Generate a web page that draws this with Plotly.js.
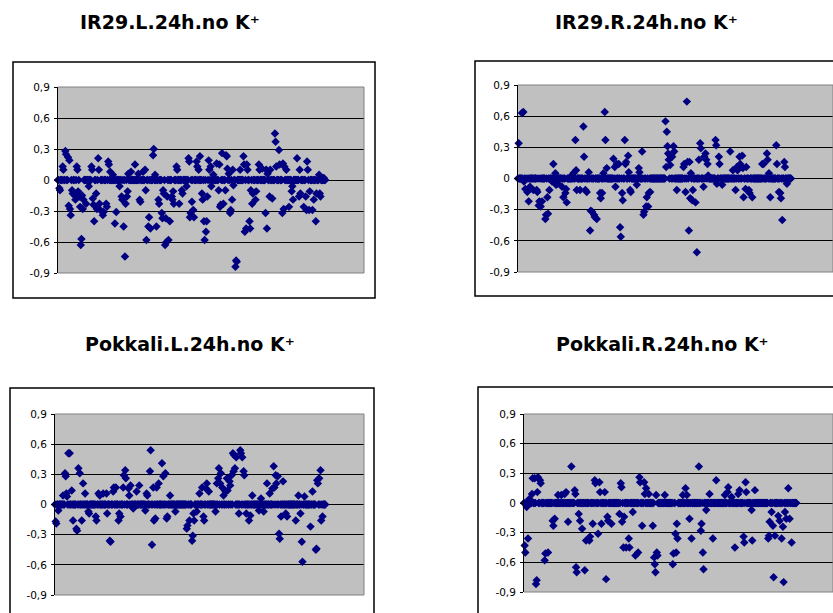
<!DOCTYPE html>
<html><head><meta charset="utf-8">
<script src="https://cdn.plot.ly/plotly-3.0.1.min.js"></script>
<style>html,body{margin:0;padding:0;overflow:hidden;background:#fff}#chart{width:833px;height:613px}</style>
</head><body><div id="chart"></div>
<script>
const panelTitles = ["IR29.L.24h.no K⁺", "IR29.R.24h.no K⁺", "Pokkali.L.24h.no K⁺", "Pokkali.R.24h.no K⁺"];
const yTickVals = [-0.9, -0.6, -0.3, 0, 0.3, 0.6, 0.9];
const yTickText = ["-0,9", "-0,6", "-0,3", "0", "0,3", "0,6", "0,9"];

const ir29L = [
0,0,-0.08,-0.1,0,0,0,0.13,0.1,0,
0,0.28,0.25,0,0,0.22,-0.25,0.19,-0.28,-0.34,
0,-0.1,-0.13,0,0,-0.15,-0.19,0,0.13,0.1,
-0.11,0,-0.16,-0.26,-0.63,-0.57,-0.15,-0.28,-0.19,0,
0,0,-0.23,0,0,0,-0.06,0,0,0,
0.13,0.1,-0.18,-0.24,-0.4,0,0,-0.13,-0.28,0,
0.21,0.1,-0.23,-0.29,0,0,0,-0.34,-0.31,0,
0,0,-0.23,-0.26,0,0.18,0.15,0,0.08,0,
0,0,0.05,0,0,-0.42,0,-0.31,0,0,
0,0,-0.06,0,0,-0.16,-0.19,0,-0.45,0,
-0.74,-0.23,0,-0.16,-0.11,0.06,0,0,0,0.08,
0,0,0,0,0,0.15,0,0,0,0,
0.06,0,-0.19,-0.21,0,0,0,0.08,0,0,
0.1,-0.1,-0.58,0,0,-0.45,-0.36,0,-0.47,0,
0,0,0.24,0.3,0,0.05,0,-0.45,0,0,
-0.19,-0.23,0,0,0,-0.32,-0.37,-0.1,-0.13,0,
-0.63,-0.37,-0.6,-0.16,0,-0.58,0,-0.4,0,0,
-0.16,-0.19,-0.11,-0.23,0,0,0,0.13,0.1,0,
0,-0.23,0,0,0,-0.1,-0.13,0,0,0,
0,0,-0.06,0,0,0.21,0.18,-0.36,-0.32,0,
-0.21,0,-0.29,-0.36,0,0,0,0.18,0.13,0,
0.1,0,0.23,0,0,-0.13,-0.19,0,-0.4,-0.58,
0,-0.5,-0.4,-0.16,0,0.19,0.1,0,0.13,-0.06,
0,0,0.05,0,0,0,0,0.16,0,0,
-0.1,0.15,-0.26,-0.24,0,0.26,0,-0.23,0,0,
-0.1,0.24,0.23,0.11,0,0.06,0,-0.32,-0.29,0,
-0.19,0.1,-0.05,0,0,-0.84,-0.78,-0.79,0,0,
0,0,0.1,0,0,0,0,0.23,0.15,-0.5,
0,-0.47,0.15,0.1,0,0,-0.4,-0.47,-0.1,0,
-0.23,-0.13,0,0,0,-0.19,-0.11,0,0,0,
0.15,0.1,0,0,0,0.11,0,0,0,0,
-0.32,0.1,-0.47,0.06,0,0,-0.16,0.1,0,0,
-0.18,0,0,0,0.45,0.37,0.13,0,0,0,
0.29,0.15,0,0,0,-0.32,0.16,-0.28,0.13,0,
0,0.1,0,0,0,-0.26,0,0,0,-0.11,
-0.06,-0.19,0,0,0,0,0,0.21,0,0,
-0.16,0.1,-0.13,0,0,0,0,-0.26,0,0,
-0.16,-0.29,0.18,0.1,0,-0.29,-0.11,0,0,0,
-0.29,0,-0.19,0,0,-0.4,-0.13,0,0,0,
0.05,-0.13,-0.16,0,0,0,0,0.02,0,0
];

const ir29R = [
0,0.34,0,0,0,0,0.63,0,0.64,-0.03,
0,-0.1,0,-0.11,-0.13,0,-0.22,0,-0.08,0,
0,0,0,-0.11,0,0,0,0,-0.11,-0.13,
0,-0.26,-0.22,0,-0.27,0,-0.22,0,0,0,
0,-0.39,-0.35,0,-0.18,-0.34,0,-0.11,0,0,
0,-0.03,0,0.14,0,0,0.05,-0.06,0,-0.05,
0,0,0,0,0,0,-0.08,0,-0.18,0,
0,-0.14,-0.1,-0.23,0,0,0,0,0,0,
0,0.03,0,0.05,0,0,0.37,0.08,-0.11,0,
0,0,0,-0.11,0,0,0,0,0.5,0.21,
0,-0.11,0,-0.13,0,0,0.06,0,-0.5,-0.31,
0,-0.32,0,0,-0.35,-0.37,0,0,-0.39,0,
0,0,0,-0.14,-0.19,0,-0.14,0,0.05,0,
0.64,0.37,0,0.1,0,0,0,0,0,0,
0,0,0,0.19,0,0.11,-0.08,0,0.14,0,
0,0.14,0,-0.47,-0.56,0,-0.14,-0.21,0,0,
0.37,0.14,0.16,0,0,0.22,0.06,0,-0.11,-0.13,
0,0,0,0,0,0,0,0,-0.06,0,
0,0.1,0.06,0,0,0,0.26,0,-0.35,-0.32,
0,0,-0.27,-0.18,0,-0.27,-0.14,0,-0.13,0,
0,0,0,0,0,0,0,0,0,0,
0,0,0,0,0,0,0,0,0,0,
0,0.55,0.11,0.45,0.31,0.24,0.18,0,0.13,0.21,
0,0.21,0,0.31,0.26,0,0,0,-0.11,0,
0,0,0,0,0,0,0,0,0.11,0.14,
0,-0.13,0,0.74,0.16,0,-0.5,0.16,-0.19,0.05,
0,-0.21,-0.11,0,0,0,-0.23,0,-0.71,0,
0,0.18,0,0.34,0.29,0,0,0,-0.08,0.21,
0,0.24,0.18,0,0.14,0.03,0,0,0,0,
0,0,0,0,0,0,0.37,0.32,-0.05,0,
0,0.21,0.14,0,0,0,-0.06,0,0,0,
0,0,0,0,0,0,0,0,0.26,0,
0,0,0.08,0,0,0,-0.11,0,0.11,0.08,
0,0,0.21,0.14,0,0,0.22,0.1,-0.18,0,
0,-0.1,0.11,0,0,0,-0.11,-0.14,0,0,
0,-0.18,0,0,0,0,0,0,0,0,
0,0,0,0,0,0,0.14,0,0.14,0,
0,0,0,0.24,0.18,0,0.05,0,-0.18,0,
0,0,0,0,0,0,0,0.32,0.14,0,
0,-0.13,0,-0.14,-0.19,0,-0.4,0,0,0.16,
0.11,0,0,-0.05,0,0,0,0,0,0
];

const pokkaliL = [
0,-0.17,-0.19,0,0,-0.06,0,0,0,0,
0,0,0.09,0,0,0.31,0.28,0.11,0.08,0,
0.51,0,0.51,0,0,0.14,0,-0.16,0,0,
0,0,-0.24,-0.26,0,0.36,0,0.31,0,0,
-0.16,0,0.21,0,0,0.11,0,0,0,0,
-0.07,-0.09,0,0,0,0,0,0,0,0,
0,-0.12,-0.16,0,0,0.11,0,0.09,0,0,
0,0,0.11,0,0,0,0,0.11,-0.09,0,
0,0,-0.36,-0.37,0,0,0,0.13,0.17,0,
0,0.17,0,0,0,-0.16,-0.09,0,-0.12,0,
0,0,0.17,0.29,0,0.34,0.26,0,0,0,
0.16,0.09,0,0.19,0,0,0,-0.04,0,0,
0,0,0.13,0,0,0,0.19,0,0,0,
0,0,0,0,0,-0.06,0,0.11,0.09,0,
0,0,0.33,0.54,0,-0.4,0,0.17,-0.16,0,
-0.14,0,0.17,0,0,0.21,0,0,0,0,
0.41,0,0.28,0,0,0.31,0,-0.14,-0.12,0,
0,0,0.09,0,0,0,0,0,0,0,
-0.07,0,0,0,0,0,0,0,0,0,
0,0,0,0,0,0,0,-0.24,-0.21,0,
0,-0.16,0,0,0,-0.36,-0.31,-0.09,-0.16,0,
0,0,-0.07,0,0,0,0.11,0,0,0,
0.17,0,-0.12,-0.16,0,0,0.16,0.21,0,0,
0.13,0,0,0,0,0,0,0,0,0,
-0.07,0,0.21,0,0.26,0.36,0,0.21,0.31,0,
0.17,0,0.09,0,0,0.13,0,0.26,0.14,0,
0,0.23,0.19,0,0.29,0,0.51,0.33,0.49,0.36,
0,0.47,0,0,0,-0.09,0,0.54,0.51,0,
0.47,0,0.33,0.29,0,0,-0.09,0,0,0,
-0.16,0,-0.11,0,0,0.09,0,0,0,0,
0,0,0,0,0,-0.06,0,0,0.06,0,
0,0,-0.07,0,0,0,0,0.21,0,0,
0,0.11,0,0,0,0.16,0,0.38,0.17,0,
0.29,0.21,0,0.28,0,-0.29,-0.34,0,-0.12,0,
0,0.23,0,0,0,-0.09,0,-0.12,0,0,
0,0,0,0,0,0,0,0,0,0,
-0.16,0,0,0,0.09,0,0,-0.09,0,-0.37,
-0.57,0,0,0.08,0,0,0,0,0,0,
0,0,-0.22,0,0,0.13,0,0,0,0,
-0.45,-0.44,0.24,0.21,0,0.26,0,0.34,-0.16,0,
-0.12,0,0,0,0
];

const pokkaliR = [
0,-0.43,-0.5,0,-0.04,0,-0.36,0,0.04,0,
0,0,0.09,0.25,0,0,0.25,0,-0.82,-0.78,
0.11,0.26,0,0,0.23,0.2,0,0,0,0,
0,-0.58,-0.51,0,0,0,-0.5,0,0,0,
0,0,0,-0.18,-0.23,0,-0.16,0,0,0,
0,0.08,0,0,0,0,0.08,0,0,0,
0,0.09,0,0.11,0,0,-0.19,0,0,0,
0,0.37,0,0,0,0,0.13,0.09,-0.65,-0.7,
0,0,-0.11,0,-0.18,0,0,-0.26,0,0,
0,-0.68,0,-0.38,0,0,0,0,-0.38,-0.34,
0,0,0,-0.21,0,0,0.23,0.2,0,0,
0,-0.31,0,0.21,0.11,0,-0.21,0,0,0,
0,0.11,0,-0.77,0,-0.14,-0.18,0,0,0,
0,-0.21,0,0,0,0,0,0,0,0,
0,0,0,-0.11,0,0.2,0.16,-0.19,0,-0.45,
-0.14,0,0,-0.45,0,0,0,-0.36,-0.45,0,
0,0,0,-0.09,0,0,0,-0.53,0,0,
0,-0.5,0,0.26,0.21,0,0,-0.23,0,0,
0.21,0.09,0,0.15,0,0,0,0.09,0,0,
0,0,0,-0.23,0,-0.55,-0.62,-0.7,0.08,-0.5,
-0.53,0,0,0,0,0,0,0,0,0,
0,0.08,0,0,0,0,0,0,0,0,
0,0,0,-0.62,-0.51,0,0,-0.31,-0.5,-0.21,
-0.36,0,0,0,0,0,0,0,0.08,0,
0,0,0.15,0,0.08,0,0,0,-0.16,0,
0,-0.36,0,0,0,0,0,0,0,0,
0,0,0.37,0,0,-0.28,-0.21,0,-0.5,-0.67,
0,0,0,-0.07,0,0,0,0,0.09,0,
0,0,0,-0.36,0,0,0,0,0.23,0,
0,0,0,0,0,0,0,0,0,0,
0,0.08,0,0,0,0.11,0.16,0,0,0,
0,0.06,0,0,0,0,-0.45,0,0,0,
0,0.09,0,0.13,0,0,0,0,0,-0.34,
-0.4,0,0.21,0.11,0,0,0,0,0,0,
0,-0.07,-0.38,0,0,0,0.13,0,0,0,
0,0,0,0,0,0,0,0,0,0,
0,0,0,0,0,0,-0.36,-0.33,-0.19,0,
0,-0.09,0,-0.23,-0.75,0,-0.33,0,0,0,
0,-0.13,0,-0.18,0,0,-0.36,0,-0.24,-0.8,
0,-0.09,0,-0.16,0,0,0.15,0,-0.16,0,
0,-0.4,0,0,0,0,0,0,0
];

const series = [ir29L, ir29R, pokkaliL, pokkaliR];
const W = 833, H = 613;
// plot areas in pixels: [left, right, top, bottom]
const areas = [[58, 364, 87, 273], [518, 833, 85, 272], [55, 364, 414, 595], [524, 833, 414, 592]];
const xMax = [457, 472, 462, 463];
const titlePos = [[170, 22], [646, 22], [190, 344], [662, 344]];
const boxes = [[13, 375, 62, 298], [475, 880, 61, 296], [10, 374, 388, 660], [478, 880, 387, 660]];

const traces = [];
const layout = {
  width: W, height: H,
  margin: {l: 0, r: 0, t: 0, b: 0},
  paper_bgcolor: '#ffffff',
  plot_bgcolor: '#c0c0c0',
  showlegend: false,
  annotations: [],
  shapes: []
};

series.forEach((ys, k) => {
  const n = k === 0 ? '' : String(k + 1);
  traces.push({
    type: 'scatter', mode: 'markers',
    y: ys,
    xaxis: 'x' + n, yaxis: 'y' + n,
    cliponaxis: false,
    marker: {symbol: 'diamond', size: 6.5, color: '#000080', line: {width: 0}},
    hoverinfo: 'y'
  });
  const a = areas[k];
  layout['xaxis' + n] = {
    domain: [a[0] / W, a[1] / W],
    range: [0, xMax[k]],
    anchor: 'y' + n,
    showgrid: false, zeroline: false, showline: false,
    showticklabels: false, ticks: ''
  };
  layout['yaxis' + n] = {
    domain: [1 - a[3] / H, 1 - a[2] / H],
    range: [-0.9, 0.9],
    anchor: 'x' + n,
    tickmode: 'array', tickvals: yTickVals, ticktext: yTickText,
    showgrid: true, gridcolor: '#000000', gridwidth: 1,
    zeroline: false,
    showline: true, linecolor: '#000000', linewidth: 1,
    ticks: 'outside', ticklen: 3, tickcolor: '#000000', tickwidth: 1,
    ticklabelstandoff: 2,
    tickfont: {family: 'DejaVu Sans, Arial, sans-serif', size: 10.5, color: '#000000'}
  };
  const t = titlePos[k];
  layout.annotations.push({
    text: panelTitles[k], xref: 'paper', yref: 'paper',
    x: t[0] / W, y: 1 - t[1] / H, xanchor: 'center', yanchor: 'middle',
    showarrow: false,
    font: {family: 'DejaVu Sans, Arial, sans-serif', size: 19, color: '#000000', weight: 'bold'}
  });
  const b = boxes[k];
  layout.shapes.push({
    type: 'rect', xref: 'paper', yref: 'paper',
    x0: b[0] / W, x1: b[1] / W, y0: 1 - b[3] / H, y1: 1 - b[2] / H,
    line: {color: '#000000', width: 1.5}, fillcolor: 'rgba(0,0,0,0)', layer: 'above'
  });
  const xd = 'x' + n + ' domain', yd = 'y' + n + ' domain';
  [[0, 1, 1, 1], [0, 1, 0, 0], [1, 1, 0, 1]].forEach(s => {
    layout.shapes.push({
      type: 'line', xref: xd, yref: yd, x0: s[0], x1: s[1], y0: s[2], y1: s[3],
      line: {color: '#808080', width: 1}, layer: 'above'
    });
  });
});

Plotly.newPlot('chart', traces, layout, {displayModeBar: false, staticPlot: true});
</script>
</body></html>
